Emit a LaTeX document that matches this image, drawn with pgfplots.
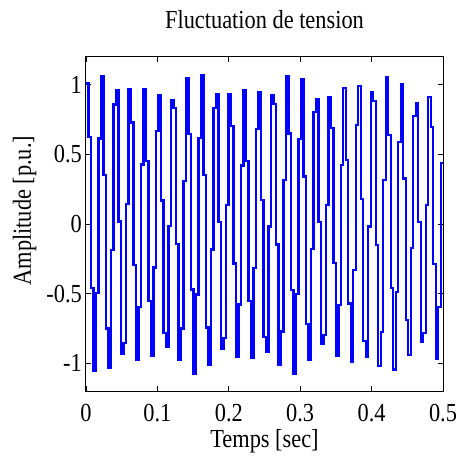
\documentclass[border=0pt]{standalone}
\usepackage{fontspec}
\setmainfont{Liberation Serif}[FakeStretch=0.86]
\usepackage{pgfplots}
\pgfplotsset{compat=1.18}

% sampled voltage with a slow amplitude fluctuation (zero-order hold)
\pgfplotstableread{
t y
0.0000 1.010
0.0035 0.624
0.0070 -0.458
0.0105 -1.054
0.0140 -0.498
0.0175 0.614
0.0210 1.063
0.0245 0.351
0.0280 -0.751
0.0315 -1.032
0.0350 -0.188
0.0385 0.858
0.0420 0.961
0.0455 0.018
0.0490 -0.931
0.0525 -0.856
0.0560 0.144
0.0595 0.970
0.0630 0.730
0.0665 -0.293
0.0700 -0.980
0.0735 -0.594
0.0770 0.428
0.0805 0.971
0.0840 0.453
0.0875 -0.552
0.0910 -0.950
0.0945 -0.313
0.0980 0.669
0.1015 0.924
0.1050 0.169
0.1085 -0.781
0.1120 -0.886
0.1155 -0.017
0.1190 0.887
0.1225 0.831
0.1260 -0.142
0.1295 -0.980
0.1330 -0.751
0.1365 0.308
0.1400 1.046
0.1435 0.644
0.1470 -0.470
0.1505 -1.078
0.1540 -0.507
0.1575 0.620
0.1610 1.067
0.1645 0.350
0.1680 -0.743
0.1715 -1.015
0.1750 -0.183
0.1785 0.835
0.1820 0.931
0.1855 0.017
0.1890 -0.896
0.1925 -0.822
0.1960 0.138
0.1995 0.933
0.2030 0.703
0.2065 -0.284
0.2100 -0.952
0.2135 -0.579
0.2170 0.420
0.2205 0.960
0.2240 0.451
0.2275 -0.554
0.2310 -0.961
0.2345 -0.319
0.2380 0.685
0.2415 0.951
0.2450 0.175
0.2485 -0.811
0.2520 -0.921
0.2555 -0.018
0.2590 0.923
0.2625 0.863
0.2660 -0.148
0.2695 -1.011
0.2730 -0.772
0.2765 0.315
0.2800 1.064
0.2835 0.650
0.2870 -0.472
0.2905 -1.074
0.2940 -0.501
0.2975 0.610
0.3010 1.043
0.3045 0.341
0.3080 -0.720
0.3115 -0.980
0.3150 -0.177
0.3185 0.802
0.3220 0.895
0.3255 0.017
0.3290 -0.864
0.3325 -0.795
0.3360 0.134
0.3395 0.910
0.3430 0.690
0.3465 -0.280
0.3500 -0.948
0.3535 -0.582
0.3570 0.425
0.3605 0.978
0.3640 0.462
0.3675 -0.571
0.3710 -0.994
0.3745 -0.331
0.3780 0.712
0.3815 0.990
0.3850 0.182
0.3885 -0.842
0.3920 -0.955
0.3955 -0.018
0.3990 0.948
0.4025 0.883
0.4060 -0.150
0.4095 -1.022
0.4130 -0.775
0.4165 0.314
0.4200 1.053
0.4235 0.639
0.4270 -0.462
0.4305 -1.045
0.4340 -0.486
0.4375 0.588
0.4410 1.005
0.4445 0.327
0.4480 -0.692
0.4515 -0.943
0.4550 -0.170
0.4585 0.776
0.4620 0.868
0.4655 0.016
0.4690 -0.848
0.4725 -0.786
0.4760 0.134
0.4795 0.914
0.4830 0.698
0.4865 -0.286
0.4900 -0.971
0.4935 -0.599
0.4970 0.440
0.5000 0.440
}\voltage

\begin{document}
\begin{tikzpicture}
  \begin{axis}[
      scale only axis,
      width=357pt, height=334pt,
      xmin=0, xmax=0.5, ymin=-1.2, ymax=1.2,
      xtick={0,0.1,0.2,0.3,0.4,0.5},
      xticklabels={0,0.1,0.2,0.3,0.4,0.5},
      ytick={-1,-0.5,0,0.5,1},
      yticklabels={-1,-0.5,0,0.5,1},
      tick align=inside,
      major tick length=5pt,
      axis line style={line width=1pt},
      every tick/.style={black, line width=0.8pt},
      tick label style={font=\fontsize{26}{30}\selectfont},
      xticklabel style={anchor=base, yshift=-30pt},
      yticklabel style={anchor=east, inner sep=0pt, xshift=-4pt},
      label style={font=\fontsize{26}{30}\selectfont},
      title style={font=\fontsize{26}{30}\selectfont},
      title={Fluctuation de tension},
      title style={at={(axis description cs:0.5,1)}, anchor=base, yshift=22pt},
      xlabel={Temps [sec]},
      xlabel style={at={(axis description cs:0.5,0)}, anchor=base, yshift=-56pt},
      ylabel={Amplitude [p.u.]},
      ylabel style={at={(axis description cs:0,0.54)}, anchor=base, yshift=55pt},
    ]
    \addplot[const plot, color=blue, line width=2.2pt] table[x=t, y=y] {\voltage};
  \end{axis}
  \pgfresetboundingbox
  \path[use as bounding box] (current axis.south west) ++(-86pt,-66pt) rectangle ([shift={(16pt,57pt)}]current axis.north east);
\end{tikzpicture}
\end{document}
